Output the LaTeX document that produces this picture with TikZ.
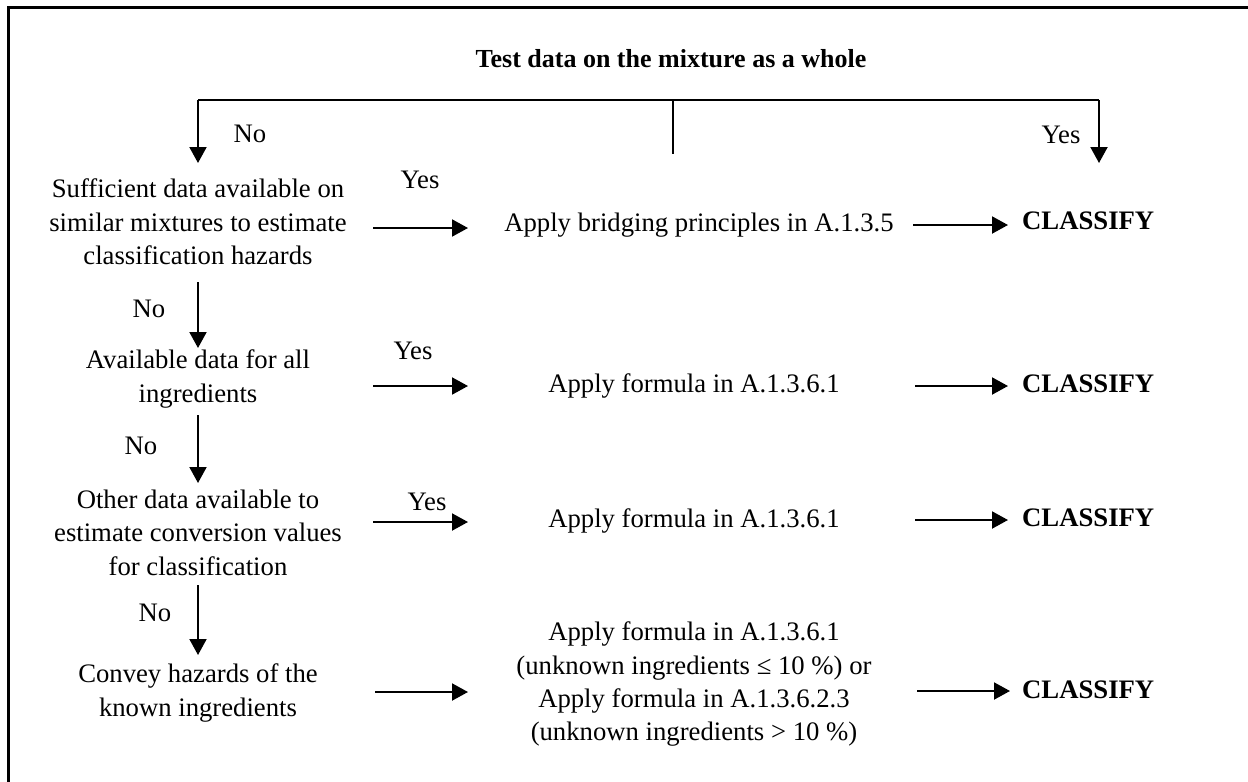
\documentclass[tikz,border=0pt]{standalone}
\usepackage{fontspec}
\setmainfont{Liberation Serif}
\usetikzlibrary{arrows.meta}
\begin{document}
\begin{tikzpicture}[x=1pt,y=-1pt,
  txt/.style={font=\fontsize{26.7}{33.3}\selectfont, inner sep=0pt, align=center},
  ttl/.style={font=\fontsize{26}{30}\selectfont\bfseries, inner sep=0pt, anchor=base},
  cls/.style={font=\fontsize{26.7}{33.3}\selectfont\bfseries, inner sep=0pt, anchor=base west},
  lbl/.style={font=\fontsize{26.7}{33.3}\selectfont, inner sep=0pt, anchor=base},
  arr/.style={line width=2pt, -{Triangle[length=16pt,width=17pt]}},
  ln/.style={line width=2pt}]
\useasboundingbox (0,0) rectangle (1248,782);
\draw[line width=3pt] (8,782) -- (8,7) -- (1248,7);

% title and top branch
\node[ttl] (title) at (671,67) {Test data on the mixture as a whole};
\coordinate (tl) at (198,100);
\coordinate (tr) at (1099,100);
\coordinate (tm) at (673,100);
\coordinate (tmb) at (673,154);
\coordinate (tlb) at (198,163);
\coordinate (trb) at (1099,163);
\draw[ln] (tl) -- (tr);
\draw[ln] (tm) -- (tmb);
\draw[arr] (tl) -- (tlb);
\draw[arr] (tr) -- (trb);
\node[lbl] (no0) at (250,142) {No};
\node[lbl] (yes0) at (1061,143) {Yes};

% left column
\node[txt, anchor=north] (s1) at (198,178.7) {Sufficient data available on\\similar mixtures to estimate\\classification hazards};
\node[txt, anchor=north] (s2) at (198,349.7) {Available data for all\\ingredients};
\node[txt, anchor=north] (s3) at (198,489.7) {Other data available to\\estimate conversion values\\for classification};
\node[txt, anchor=north] (s4) at (198,663.7) {Convey hazards of the\\known ingredients};

\coordinate (d1a) at (198,282); \coordinate (d1b) at (198,348);
\coordinate (d2a) at (198,415); \coordinate (d2b) at (198,483);
\coordinate (d3a) at (198,585); \coordinate (d3b) at (198,655);
\draw[arr] (d1a) -- (d1b);
\draw[arr] (d2a) -- (d2b);
\draw[arr] (d3a) -- (d3b);
\node[lbl] (no1) at (149,317) {No};
\node[lbl] (no2) at (141,454) {No};
\node[lbl] (no3) at (155,621) {No};

% middle column
\node[lbl] (m1) at (699,231) {Apply bridging principles in A.1.3.5};
\node[lbl] (m2) at (694,392) {Apply formula in A.1.3.6.1};
\node[lbl] (m3) at (694,527) {Apply formula in A.1.3.6.1};
\node[txt, anchor=north] (m4) at (694,621.7) {Apply formula in A.1.3.6.1\\(unknown ingredients ≤ 10 \%) or\\Apply formula in A.1.3.6.2.3\\(unknown ingredients > 10 \%)};

\node[lbl] (yes1) at (420,188) {Yes};
\node[lbl] (yes2) at (413,359) {Yes};
\node[lbl] (yes3) at (427,510) {Yes};

\coordinate (l1a) at (373,228); \coordinate (l1b) at (468,228);
\coordinate (l2a) at (373,386); \coordinate (l2b) at (468,386);
\coordinate (l3a) at (373,522); \coordinate (l3b) at (468,522);
\coordinate (l4a) at (375,692); \coordinate (l4b) at (468,692);
\draw[arr] (l1a) -- (l1b);
\draw[arr] (l2a) -- (l2b);
\draw[arr] (l3a) -- (l3b);
\draw[arr] (l4a) -- (l4b);

% right column
\coordinate (r1a) at (913,225); \coordinate (r1b) at (1008,225);
\coordinate (r2a) at (915,386); \coordinate (r2b) at (1008,386);
\coordinate (r3a) at (915,520); \coordinate (r3b) at (1008,520);
\coordinate (r4a) at (917,691); \coordinate (r4b) at (1010,691);
\draw[arr] (r1a) -- (r1b);
\draw[arr] (r2a) -- (r2b);
\draw[arr] (r3a) -- (r3b);
\draw[arr] (r4a) -- (r4b);
\node[cls] (c1) at (1022,229) {CLASSIFY};
\node[cls] (c2) at (1022,392) {CLASSIFY};
\node[cls] (c3) at (1022,526) {CLASSIFY};
\node[cls] (c4) at (1022,698) {CLASSIFY};
\end{tikzpicture}
\end{document}
